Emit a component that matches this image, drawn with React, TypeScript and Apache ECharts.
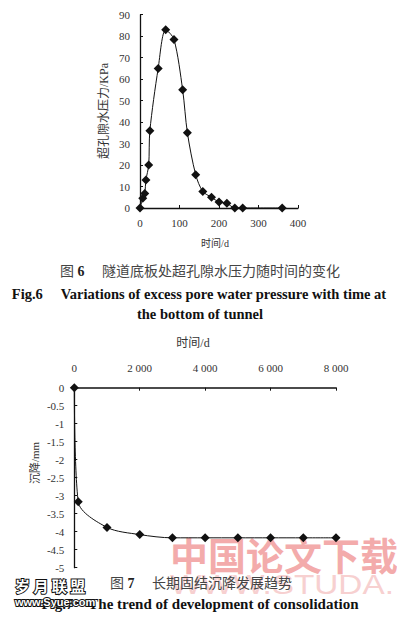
import React, { useEffect, useRef } from "react";
import * as echarts from "echarts";

// Fig.6 data: time (d) vs excess pore water pressure (KPa)
const days6 = [0, 7, 12, 15, 22, 25, 46, 65, 86, 108, 120, 141, 159, 181, 200, 220, 240, 260, 360];
const pressure6 = [0, 4.5, 6.8, 13, 20, 36, 65, 83, 78.5, 55, 35, 15.5, 7.7, 5, 2.8, 2.2, 0, 0, 0];
const xTicks6 = [0, 100, 200, 300, 400];
const yTicks6 = [0, 10, 20, 30, 40, 50, 60, 70, 80, 90];

// Fig.7 data: time (d) vs settlement (mm)
const days7 = [0, 120, 1000, 2000, 3000, 4000, 5000, 6000, 7000, 8000];
const settle7 = [0, -3.17, -3.88, -4.08, -4.17, -4.17, -4.17, -4.17, -4.17, -4.17];
const xTicks7 = [0, 2000, 4000, 6000, 8000];
const yTicks7 = [0, -0.5, -1, -1.5, -2, -2.5, -3, -3.5, -4, -4.5, -5];

const SERIF = '"Liberation Serif", "Noto Sans CJK SC", serif';
const CJK = '"Liberation Serif", "Noto Sans CJK SC", sans-serif';

function fmtThousands(v: number): string {
  const s = String(Math.round(v));
  return s.replace(/\B(?=(\d{3})+(?!\d))/g, " ");
}

export default function App() {
  const ref = useRef<HTMLDivElement>(null);

  useEffect(() => {
    document.body.style.margin = "0";
    if (!ref.current) return;
    const chart = echarts.init(ref.current, undefined, { renderer: "svg" });

    const axisLine = { show: true, lineStyle: { color: "#111", width: 1.3 } };
    const axisTick = { show: true, inside: true, length: 3, lineStyle: { color: "#111", width: 1 } };
    const axisLabel = { color: "#333", fontSize: 11, fontFamily: SERIF };

    chart.setOption({
      animation: false,
      backgroundColor: "#fff",
      grid: [
        { left: 140, top: 14.7, width: 158, height: 193.3 },
        { left: 74.3, top: 387.7, width: 261.7, height: 180 },
      ],
      xAxis: [
        {
          gridIndex: 0,
          type: "value",
          min: xTicks6[0],
          max: xTicks6[xTicks6.length - 1],
          interval: 100,
          axisLine,
          axisTick,
          splitLine: { show: false },
          axisLabel: { ...axisLabel, margin: 9 },
        },
        {
          gridIndex: 1,
          type: "value",
          position: "top",
          min: xTicks7[0],
          max: xTicks7[xTicks7.length - 1],
          interval: 2000,
          axisLine: { show: true, lineStyle: { color: "#111", width: 1.6 } },
          axisTick,
          splitLine: { show: false },
          axisLabel: { ...axisLabel, margin: 14, formatter: (v: number) => fmtThousands(v) },
        },
      ],
      yAxis: [
        {
          gridIndex: 0,
          type: "value",
          min: yTicks6[0],
          max: yTicks6[yTicks6.length - 1],
          interval: 10,
          axisLine,
          axisTick,
          splitLine: { show: false },
          axisLabel: { ...axisLabel, margin: 10 },
        },
        {
          gridIndex: 1,
          type: "value",
          min: yTicks7[yTicks7.length - 1],
          max: yTicks7[0],
          interval: 0.5,
          axisLine,
          axisTick,
          splitLine: { show: false },
          axisLabel: { ...axisLabel, margin: 10 },
        },
      ],
      series: [
        {
          type: "line",
          xAxisIndex: 0,
          yAxisIndex: 0,
          data: days6.map((d, i) => [d, pressure6[i]]),
          smooth: 0.3,
          symbol: "diamond",
          symbolSize: 9,
          itemStyle: { color: "#111" },
          lineStyle: { color: "#111", width: 1 },
          z: 5,
        },
        {
          type: "line",
          xAxisIndex: 1,
          yAxisIndex: 1,
          data: days7.map((d, i) => [d, settle7[i]]),
          smooth: 0.3,
          symbol: "diamond",
          symbolSize: 9,
          itemStyle: { color: "#111" },
          lineStyle: { color: "#111", width: 1 },
          z: 5,
        },
      ],
      graphic: [
        // pink watermark (behind)
        {
          type: "text",
          x: 170,
          y: 553,
          z: -10,
          style: {
            text: "中国论文下载",
            font: 'bold 38px "Noto Sans CJK SC"',
            fill: "#f3abab",
            textAlign: "left",
            textVerticalAlign: "middle",
          },
        },
        {
          type: "text",
          x: 170,
          y: 584,
          z: -10,
          scaleX: 1.19,
          style: {
            text: "WWW.STUDA.",
            font: '28px "Liberation Sans"',
            fill: "#f7d0d0",
            textAlign: "left",
            textVerticalAlign: "middle",
          },
        },
        // axis names
        {
          type: "text",
          x: 215,
          y: 243,
          style: { text: "时间/d", font: `10px ${CJK}`, fill: "#333", textAlign: "center", textVerticalAlign: "middle" },
        },
        {
          type: "text",
          x: 104,
          y: 111,
          rotation: Math.PI / 2,
          style: { text: "超孔隙水压力/KPa", font: `12px ${CJK}`, fill: "#333", textAlign: "center", textVerticalAlign: "middle" },
        },
        {
          type: "text",
          x: 193,
          y: 343,
          style: { text: "时间/d", font: `12px ${CJK}`, fill: "#333", textAlign: "center", textVerticalAlign: "middle" },
        },
        {
          type: "text",
          x: 35,
          y: 463,
          rotation: Math.PI / 2,
          style: { text: "沉降/mm", font: `11px ${CJK}`, fill: "#333", textAlign: "center", textVerticalAlign: "middle" },
        },
        // captions Fig.6
        {
          type: "text",
          x: 200,
          y: 271,
          style: {
            text: "图 {b|6}　 隧道底板处超孔隙水压力随时间的变化",
            font: `14px ${CJK}`,
            fill: "#444",
            textAlign: "center",
            textVerticalAlign: "middle",
            rich: { b: { fontWeight: "bold", fontSize: 14, fontFamily: SERIF, fill: "#222" } },
          },
        },
        {
          type: "text",
          x: 199,
          y: 294,
          style: {
            text: "Fig.6     Variations of excess pore water pressure with time at",
            font: `bold 14.5px ${SERIF}`,
            fill: "#111",
            textAlign: "center",
            textVerticalAlign: "middle",
          },
        },
        {
          type: "text",
          x: 200,
          y: 314,
          style: {
            text: "the bottom of tunnel",
            font: `bold 14.5px ${SERIF}`,
            fill: "#111",
            textAlign: "center",
            textVerticalAlign: "middle",
          },
        },
        // captions Fig.7
        {
          type: "text",
          x: 201,
          y: 583,
          style: {
            text: "图 {b|7}　 长期固结沉降发展趋势",
            font: `14px ${CJK}`,
            fill: "#444",
            textAlign: "center",
            textVerticalAlign: "middle",
            rich: { b: { fontWeight: "bold", fontSize: 14, fontFamily: SERIF, fill: "#222" } },
          },
        },
        {
          type: "text",
          x: 200,
          y: 604,
          style: {
            text: "Fig.7    The trend of development of consolidation",
            font: `bold 15px ${SERIF}`,
            fill: "#111",
            textAlign: "center",
            textVerticalAlign: "middle",
          },
        },
        // site watermark (on top)
        {
          type: "text",
          x: 15,
          y: 585,
          z: 100,
          style: {
            text: "岁 月 联 盟",
            font: 'bold 15px "Noto Sans CJK SC"',
            fill: "#fff",
            stroke: "#111",
            lineWidth: 2,
            strokeFirst: true,
            textAlign: "left",
            textVerticalAlign: "middle",
          },
        },
        {
          type: "text",
          x: 15,
          y: 602,
          z: 100,
          style: {
            text: "www.Syue.com",
            font: 'bold 11px "Liberation Sans"',
            fill: "#fff",
            stroke: "#111",
            lineWidth: 2,
            strokeFirst: true,
            textAlign: "left",
            textVerticalAlign: "middle",
          },
        },
      ],
    });

    return () => chart.dispose();
  }, []);

  return <div ref={ref} style={{ width: 397, height: 621 }} />;
}
